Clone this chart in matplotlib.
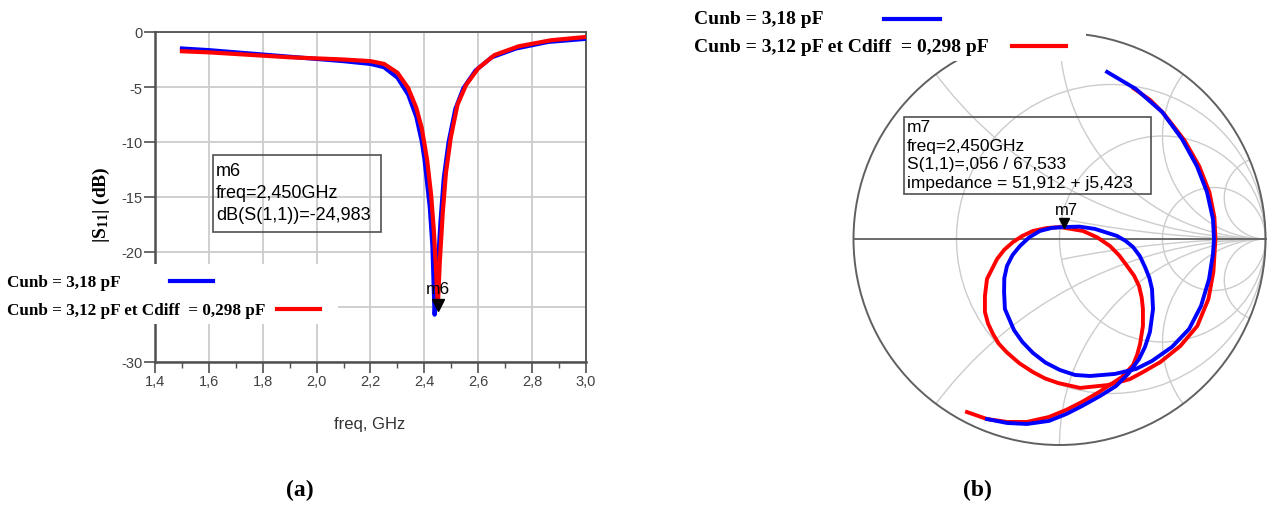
import matplotlib
matplotlib.use("Agg")
import matplotlib.pyplot as plt
import numpy as np
from matplotlib.lines import Line2D
from matplotlib.patches import Circle, Rectangle
from matplotlib.transforms import offset_copy

W, H = 1269, 506

# panel (a): |S11| in dB against frequency (GHz)
freq_blue = [1.50, 1.60, 1.70, 1.80, 1.90, 2.00, 2.10, 2.20, 2.25, 2.30, 2.34, 2.37,
             2.39, 2.40, 2.42, 2.43, 2.438, 2.448, 2.46, 2.472, 2.49, 2.515, 2.545,
             2.59, 2.65, 2.74, 2.86, 3.00]
s11_blue = [-1.50, -1.65, -1.85, -2.05, -2.25, -2.45, -2.65, -2.90, -3.20, -4.15, -5.70,
            -7.70, -9.90, -11.5, -15.9, -19.5, -25.7, -22.0, -17.2, -13.3, -10.0, -7.0,
            -5.1, -3.5, -2.3, -1.5, -0.9, -0.62]
freq_red = [1.50, 1.60, 1.70, 1.80, 1.90, 2.00, 2.10, 2.20, 2.25, 2.30, 2.34, 2.37, 2.39,
            2.41, 2.425, 2.435, 2.443, 2.45, 2.457, 2.468, 2.48, 2.498, 2.523, 2.555,
            2.60, 2.66, 2.75, 2.87, 3.00]
s11_red = [-1.75, -1.85, -2.00, -2.15, -2.30, -2.40, -2.50, -2.65, -2.90, -3.70, -5.10,
           -6.90, -8.70, -11.6, -14.8, -18.0, -21.5, -24.98, -21.0, -16.5, -12.8, -9.6,
           -6.6, -4.8, -3.3, -2.1, -1.3, -0.75, -0.45]

# panel (b): S(1,1) on the Smith chart, real / imaginary part of the reflection coefficient
gamma_blue_re = [0.231, 0.371, 0.498, 0.595, 0.667, 0.716, 0.745, 0.750, 0.745, 0.726,
                 0.687, 0.629, 0.546, 0.449, 0.371,
                 0.269, 0.148, 0.075, 0.002, -0.068, -0.129, -0.180, -0.221, -0.265,
                 -0.269, -0.268, -0.255, -0.228, -0.192, -0.147, -0.095, -0.037, 0.022,
                 0.097, 0.172, 0.279, 0.322, 0.357, 0.390, 0.415, 0.436, 0.449, 0.454,
                 0.439, 0.415, 0.386,
                 0.333, 0.274, 0.197, 0.109, 0.032, -0.051, -0.158, -0.255, -0.352]
gamma_blue_im = [0.811, 0.728, 0.617, 0.485, 0.354, 0.228, 0.097, 0.000, -0.073, -0.194,
                 -0.325, -0.437, -0.524, -0.592, -0.631,
                 -0.655, -0.665, -0.660, -0.636, -0.600, -0.553, -0.500, -0.442, -0.340,
                 -0.257, -0.190, -0.131, -0.078, -0.034, 0.008, 0.039, 0.054, 0.058,
                 0.060, 0.049, 0.015, -0.010, -0.039, -0.083, -0.136, -0.188, -0.243,
                 -0.340, -0.451, -0.524, -0.583,
                 -0.655, -0.714, -0.762, -0.811, -0.850, -0.883, -0.898, -0.893, -0.874]
gamma_red_re = [0.360, 0.440, 0.505, 0.606, 0.679, 0.728, 0.752, 0.757, 0.747, 0.723,
                0.669, 0.587, 0.490, 0.405, 0.342,
                0.235, 0.100, -0.007, -0.070, -0.129, -0.195, -0.256, -0.295, -0.323,
                -0.347, -0.362, -0.362, -0.352, -0.303, -0.268, -0.226, -0.180, -0.129,
                -0.063, 0.002, 0.114, 0.183, 0.245, 0.290, 0.328, 0.362, 0.386, 0.399,
                0.405, 0.405, 0.391, 0.377, 0.357,
                0.303, 0.192, 0.109, 0.032, -0.051, -0.158, -0.255, -0.352, -0.449]
gamma_red_im = [0.731, 0.675, 0.610, 0.480, 0.352, 0.226, 0.106, 0.000, -0.160, -0.291,
                -0.422, -0.519, -0.597, -0.646, -0.680,
                -0.709, -0.723, -0.699, -0.677, -0.646, -0.603, -0.550, -0.508, -0.461,
                -0.410, -0.354, -0.277, -0.194, -0.097, -0.052, -0.015, 0.015, 0.039,
                0.053, 0.058, 0.039, 0.008, -0.034, -0.080, -0.131, -0.178, -0.228,
                -0.284, -0.340, -0.422, -0.510, -0.562, -0.612,
                -0.670, -0.743, -0.791, -0.830, -0.864, -0.888, -0.888, -0.874, -0.840]

resistance_circles = [1 / 3, 1, 3]
reactance_arcs = [0.5, 1, 2, 5]
reactance_arcs_inner = [0.2]

m6_freq, m6_db = 2.450, -24.983
m7_mag, m7_deg = 0.056, 67.533

series_labels = ["Cunb = 3,18 pF", "Cunb = 3,12 pF et Cdiff  = 0,298 pF"]
m6_lines = ["m6", "freq=2,450GHz", "dB(S(1,1))=-24,983"]
m7_lines = ["m7", "freq=2,450GHz", "S(1,1)=,056 / 67,533", "impedance = 51,912 + j5,423"]
y_ticks = [-30, -25, -20, -15, -10, -5, 0]
y_ticklabels = ["-30", "", "-20", "-15", "-10", "-5", "0"]  # -25 sits under the legend

BLUE, RED = "#0000ff", "#ff0000"
SANS = "Liberation Sans"
SERIF = "Liberation Serif"
FRAME = "#505050"
GRID = "#cccccc"

plt.rcParams["font.family"] = SANS
plt.rcParams["mathtext.fontset"] = "custom"
plt.rcParams["mathtext.rm"] = SERIF
plt.rcParams["mathtext.bf"] = SERIF + ":bold"
plt.rcParams["mathtext.default"] = "bf"


def fx(px):
    return px / W


def fy(py):
    return 1 - py / H


fig = plt.figure(figsize=(W / 100, H / 100), dpi=100)
fig.patch.set_facecolor("white")

# ---- panel (a)
ax = fig.add_axes([fx(155), fy(363), (586 - 155) / W, (363 - 33) / H])
ax.plot(freq_blue, s11_blue, color=BLUE, lw=3.0, zorder=3, solid_joinstyle="round")
ax.plot(freq_red, s11_red, color=RED, lw=3.0, zorder=4, solid_joinstyle="round")
ax.set_xlim(1.4, 3.0)
ax.set_ylim(-30, 0)
xt = np.arange(1.4, 3.01, 0.2)
ax.set_xticks(xt, [f"{v:.1f}".replace(".", ",") for v in xt])
ax.set_xticks(np.arange(1.5, 3.0, 0.2), minor=True)
ax.set_yticks(y_ticks, y_ticklabels)
ax.grid(True, which="major", color=GRID, lw=1.3)
ax.tick_params(which="major", direction="out", length=8, width=1.2, color=FRAME,
               labelsize=10.5, labelcolor="#404040", pad=1)
ax.tick_params(which="minor", direction="out", length=4, width=1.0, color=FRAME)
for sp in ax.spines.values():
    sp.set_color(FRAME)
    sp.set_linewidth(1.3)
ax.spines["left"].set_linewidth(1.8)
ax.spines["bottom"].set_linewidth(1.8)

tip = offset_copy(ax.transData, fig=fig, x=0, y=1, units="points")
ax.plot([m6_freq], [m6_db], marker="v", color="black", ms=8, transform=tip, zorder=6,
        clip_on=False)
ax.annotate("m6", (m6_freq, m6_db), xytext=(0, 8), textcoords="offset points",
            ha="center", va="bottom", fontsize=12.5, color="black", zorder=6)

fig.text(fx(370), fy(425), "freq, GHz", ha="center", va="center", fontsize=12,
         color="#333333")
fig.text(fx(101), fy(205), "|S$_{11}$| (dB)", rotation=90, ha="center", va="center",
         family=SERIF, fontweight="bold", fontsize=14)

fig.add_artist(Rectangle((fx(213), fy(233)), (381 - 213) / W, (233 - 156) / H,
                         transform=fig.transFigure, fill=False, ec=FRAME, lw=1.2, zorder=5))
for line, y in zip(m6_lines, [171.5, 193.5, 216]):
    fig.text(fx(216), fy(y), line, ha="left", va="center", fontsize=13, zorder=6)

# legend of panel (a), white patch over the axes
fig.add_artist(Rectangle((0, fy(325)), fx(338), (325 - 265) / H,
                         transform=fig.transFigure, fc="white", ec="none", zorder=7))
for label, y, x0, x1, color in zip(series_labels, [283, 311], [170, 277], [213, 320],
                                   [BLUE, RED]):
    fig.text(fx(7), fy(y), label, ha="left", va="center", family=SERIF,
             fontweight="bold", fontsize=12.3, zorder=8)
    fig.add_artist(Line2D([fx(x0), fx(x1)], [fy(y - 1), fy(y - 1)],
                          transform=fig.transFigure, color=color, lw=3, zorder=8))

# ---- panel (b): Smith chart
cx, cy, R = 1059.5, 240, 206
span = 1.1
axs = fig.add_axes([fx(cx - span * R), fy(cy + span * R), 2 * span * R / W, 2 * span * R / H])
axs.set_xlim(-span, span)
axs.set_ylim(-span, span)
axs.axis("off")

unit = Circle((0, 0), 1, transform=axs.transData)
inner = Circle((0.5, 0), 0.5, transform=axs.transData)
for r in resistance_circles:
    axs.add_patch(Circle((r / (1 + r), 0), 1 / (1 + r), fill=False, ec=GRID, lw=1.0))
for x in reactance_arcs + reactance_arcs_inner:
    for s in (1, -1):
        arc = Circle((1, s / x), 1 / x, fill=False, ec=GRID, lw=1.0)
        axs.add_patch(arc)
        arc.set_clip_path(inner if x in reactance_arcs_inner else unit)
axs.add_patch(Circle((0, 0), 1, fill=False, ec="#606060", lw=1.4))
axs.plot([-1, 1], [0, 0], color="#606060", lw=1.3)

axs.plot(gamma_red_re, gamma_red_im, color=RED, lw=2.8, zorder=3, solid_joinstyle="round")
axs.plot(gamma_blue_re, gamma_blue_im, color=BLUE, lw=2.8, zorder=4, solid_joinstyle="round")

m7 = m7_mag * np.exp(1j * np.deg2rad(m7_deg))
tip_s = offset_copy(axs.transData, fig=fig, x=0, y=4, units="points")
axs.plot([m7.real], [m7.imag], marker="v", color="black", ms=7, transform=tip_s, zorder=6)
axs.annotate("m7", (m7.real, m7.imag), xytext=(2, 8), textcoords="offset points",
             ha="center", va="bottom", fontsize=12, zorder=6)

fig.add_artist(Rectangle((fx(904), fy(195)), (1151 - 904) / W, (195 - 118) / H,
                         transform=fig.transFigure, fill=False, ec=FRAME, lw=1.2, zorder=5))
for line, y in zip(m7_lines, [128, 146.5, 165, 183.5]):
    fig.text(fx(907), fy(y), line, ha="left", va="center", fontsize=12.5, zorder=6)

# legend of panel (b)
fig.add_artist(Rectangle((fx(680), fy(62)), (1086 - 680) / W, 62 / H,
                         transform=fig.transFigure, fc="white", ec="none", zorder=7))
for label, y, x0, x1, color in zip(series_labels, [20, 47], [884, 1012], [940, 1066],
                                   [BLUE, RED]):
    fig.text(fx(694), fy(y), label, ha="left", va="center", family=SERIF,
             fontweight="bold", fontsize=14, zorder=8)
    fig.add_artist(Line2D([fx(x0), fx(x1)], [fy(y), fy(y)],
                          transform=fig.transFigure, color=color, lw=3, zorder=8))

fig.text(fx(300), fy(490), "(a)", ha="center", va="center", family=SERIF,
         fontweight="bold", fontsize=17)
fig.text(fx(977), fy(490), "(b)", ha="center", va="center", family=SERIF,
         fontweight="bold", fontsize=17)

fig.savefig("out.png", dpi=100, facecolor="white")
